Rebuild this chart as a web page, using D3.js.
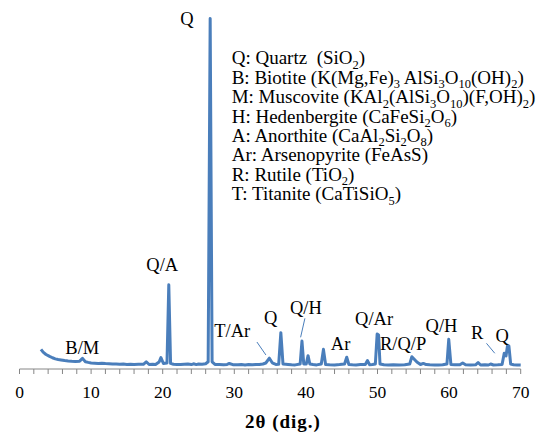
<!DOCTYPE html>
<html>
<head>
    <title>XRD pattern</title>
    <style>
        body { margin: 0; background: #fff; }
        text { fill: #000; white-space: pre; }
    </style>
    <script src="https://d3js.org/d3.v7.min.js"></script>
</head>
<body>
    <svg id="xrd"></svg>

    <script>
        // 2theta (deg) and intensity (counts)
        var twoTheta = [3.0, 3.3, 3.7, 4.2, 4.6, 5.0, 5.4, 5.8, 6.3, 6.8, 7.3, 7.8, 8.4, 8.8, 9.2, 9.6, 10.0, 10.5, 11.0, 11.5, 12.0, 12.5, 13.0, 13.5, 14.0, 14.5, 15.0, 15.5, 16.0, 16.6, 17.3, 17.7, 18.1, 18.6, 19.0, 19.5, 19.75, 20.1, 20.6, 20.85, 21.1, 21.5, 22.0, 22.5, 23.0, 23.5, 24.0, 24.3, 24.7, 25.0, 25.5, 26.0, 26.35, 26.63, 26.9, 27.3, 27.9, 28.5, 29.0, 29.3, 29.8, 30.5, 31.0, 31.5, 32.0, 32.5, 33.0, 33.5, 34.0, 34.4, 34.9, 35.3, 35.8, 36.2, 36.5, 36.8, 37.2, 37.5, 38.0, 38.5, 39.2, 39.45, 39.7, 40.05, 40.3, 40.55, 41.0, 41.5, 42.15, 42.45, 42.75, 43.3, 44.0, 44.7, 45.4, 45.7, 46.0, 46.5, 47.0, 47.6, 48.3, 48.6, 48.9, 49.3, 49.7, 49.95, 50.15, 50.35, 50.9, 51.5, 52.2, 53.0, 53.8, 54.5, 54.8, 55.1, 55.5, 56.0, 56.4, 56.8, 57.3, 58.0, 58.5, 59.1, 59.7, 59.95, 60.25, 60.8, 61.5, 61.9, 62.3, 63.0, 63.7, 64.05, 64.4, 65.0, 65.5, 65.8, 66.2, 66.8, 67.4, 67.7, 67.95, 68.15, 68.35, 68.6, 69.0, 69.5, 70.0];
        var intensity = [196, 168, 145, 126, 112, 101, 95, 90, 84, 80, 77, 75, 78, 106, 73, 66, 60, 58, 55, 57, 54, 52, 50, 51, 48, 50, 46, 48, 45, 47, 47, 72, 45, 47, 44, 70, 114, 55, 60, 840, 56, 47, 46, 44, 48, 50, 44, 52, 44, 50, 48, 52, 72, 3495, 72, 46, 44, 42, 46, 55, 43, 42, 44, 40, 45, 42, 44, 45, 50, 60, 108, 62, 46, 47, 362, 50, 47, 45, 42, 41, 50, 279, 50, 50, 133, 50, 44, 41, 50, 196, 45, 42, 41, 44, 50, 117, 45, 42, 41, 44, 45, 84, 42, 44, 50, 349, 339, 50, 42, 41, 43, 40, 42, 50, 123, 100, 70, 45, 56, 44, 42, 41, 40, 42, 50, 296, 45, 42, 42, 60, 42, 41, 42, 65, 40, 42, 40, 50, 40, 42, 45, 157, 130, 230, 230, 50, 42, 41, 40];

        // peak labels: [text, 2theta, intensity at baseline]
        var peakLabels = [
            ["Q", 23.4, 3435], ["Q/A", 19.94, 977], ["B/M", 8.77, 150],
            ["T/Ar", 29.71, 319], ["Q", 35.07, 449], ["Q/H", 40.0, 548],
            ["Ar", 44.84, 189], ["Q/Ar", 49.53, 439], ["R/Q/P", 53.58, 189],
            ["Q/H", 58.94, 369], ["R", 63.91, 299], ["Q", 67.40, 269]
        ];
        // leader lines: [x1, y1, x2, y2] in 2theta / intensity
        var leaders = [
            [33.16, 269, 34.41, 140],
            [39.86, 505, 39.26, 316],
            [65.22, 256, 66.38, 157]
        ];

        var legendLines = [
            "Q: Quartz  (SiO_2)",
            "B: Biotite (K(Mg,Fe)_3 AlSi_3O_10(OH)_2)",
            "M: Muscovite (KAl_2(AlSi_3O_10)(F,OH)_2)",
            "H: Hedenbergite (CaFeSi_2O_6)",
            "A: Anorthite (CaAl_2Si_2O_8)",
            "Ar: Arsenopyrite (FeAsS)",
            "R: Rutile (TiO_2)",
            "T: Titanite (CaTiSiO_5)"
        ];

        var xTicks = d3.range(0, 71, 10);
        var xMinor = d3.range(0, 71, 2);

        const width = 551;
        const height = 436;
        const blue = "#4a7ebb";
        const serif = '"Liberation Serif", "Times New Roman", "DejaVu Serif", serif';

        const svg = d3.select('#xrd')
            .attr('width', width)
            .attr('height', height)
            .attr('font-family', serif);

        const x = d3.scaleLinear().domain([0, 70]).range([19.5, 520.7]);
        const y = d3.scaleLinear().domain([0, 3500]).range([369, 18]);

        const points = twoTheta.map((t, i) => [t, intensity[i]]);

        // axis
        const axis = svg.append('g').attr('transform', 'translate(0,369)');
        axis.append('line')
            .attr('x1', x(0)).attr('x2', x(70))
            .attr('stroke', '#868686').attr('stroke-width', 1);
        axis.selectAll('.minor')
            .data(xMinor)
            .enter().append('line')
            .attr('x1', d => x(d)).attr('x2', d => x(d))
            .attr('y1', 0).attr('y2', 5)
            .attr('stroke', '#868686').attr('stroke-width', 1);
        axis.selectAll('.lab')
            .data(xTicks)
            .enter().append('text')
            .attr('x', d => x(d))
            .attr('y', 29)
            .attr('text-anchor', 'middle')
            .attr('font-family', serif)
            .attr('font-size', 17.5)
            .text(d => d);

        // pattern
        svg.append('path')
            .datum(points)
            .attr('fill', 'none')
            .attr('stroke', blue)
            .attr('stroke-width', 3)
            .attr('stroke-linejoin', 'round')
            .attr('d', d3.line().x(d => x(d[0])).y(d => y(d[1])));

        svg.append('g')
            .selectAll('line')
            .data(leaders)
            .enter().append('line')
            .attr('x1', d => x(d[0])).attr('y1', d => y(d[1]))
            .attr('x2', d => x(d[2])).attr('y2', d => y(d[3]))
            .attr('stroke', blue).attr('stroke-width', 1);

        svg.append('g')
            .selectAll('text')
            .data(peakLabels)
            .enter().append('text')
            .attr('x', d => x(d[1]))
            .attr('y', d => y(d[2]))
            .attr('text-anchor', 'middle')
            .attr('font-family', serif)
            .attr('font-size', 18.5)
            .text(d => d[0]);

        // legend with subscripts (marked as _n)
        const legend = svg.append('g');
        legendLines.forEach((line, i) => {
            const t = legend.append('text')
                .attr('x', 231.7)
                .attr('y', 64.3 + i * 19.4)
                .attr('font-family', serif)
                .attr('font-size', 19);
            let shifted = false;
            line.split(/(_\d+)/).forEach(part => {
                if (!part) return;
                if (part[0] === '_') {
                    t.append('tspan').attr('dy', shifted ? 0 : 4.5).attr('font-size', 12.5).text(part.slice(1));
                    shifted = true;
                } else {
                    t.append('tspan').attr('dy', shifted ? -4.5 : 0).text(part);
                    shifted = false;
                }
            });
        });

        svg.append('text')
            .attr('x', 283)
            .attr('y', 428)
            .attr('text-anchor', 'middle')
            .attr('font-family', serif)
            .attr('font-size', 19)
            .attr('letter-spacing', 1)
            .attr('font-weight', 'bold')
            .text('2θ (dig.)');
    </script>
</body>
</html>
